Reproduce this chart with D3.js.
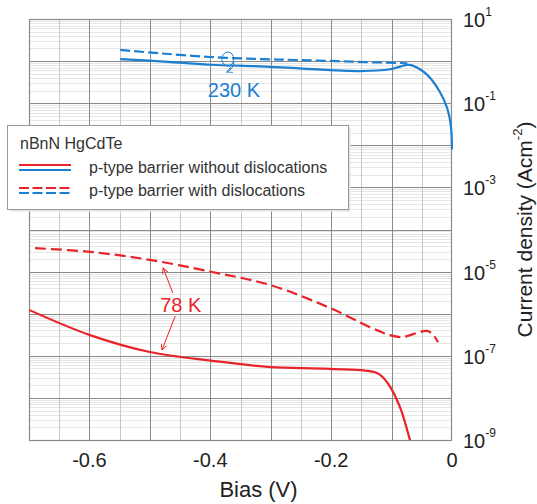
<!DOCTYPE html>
<html>
<head>
    <meta charset="utf-8">
    <title>nBnN HgCdTe current density</title>
    <style>
        body { margin: 0; background: #fff; }
        svg text { font-family: "Liberation Sans", Arial, sans-serif; }
        .grid-major { stroke: #8a8a8a; stroke-width: 1px; }
        .grid-minor { stroke: #e6e6e6; stroke-width: 1px; }
        .grid-mid { stroke: #c8c8c8; stroke-width: 1px; }
    </style>
</head>
<body>
<script src="https://cdnjs.cloudflare.com/ajax/libs/d3/7.8.5/d3.min.js"></script>
<script>
    // Bias (V) and current density (A/cm^2)
    const blueSolidBias = [-0.549, -0.483, -0.40, -0.318, -0.252, -0.202, -0.152, -0.103, -0.074, -0.065, -0.041, -0.020, -0.008, -0.002, 0];
    const blueSolidJ = [1.12, 0.99, 0.82, 0.75, 0.67, 0.61, 0.58, 0.64, 0.81, 0.78, 0.47, 0.185, 0.077, 0.03, 0.008];

    const blueDashBias = [-0.549, -0.483, -0.40, -0.318, -0.252, -0.164, -0.074];
    const blueDashJ = [1.84, 1.53, 1.25, 1.12, 1.06, 0.97, 0.89];

    const redSolidBias = [-0.70, -0.599, -0.50, -0.397, -0.301, -0.202, -0.124, -0.106, -0.086, -0.0695, -0.066];
    const redSolidJ = [1.23e-6, 3.1e-7, 1.23e-7, 7.6e-8, 5.4e-8, 4.9e-8, 3.9e-8, 2.2e-8, 6e-9, 1e-9, 7e-10];

    const redDashBias = [-0.69, -0.599, -0.50, -0.397, -0.301, -0.202, -0.136, -0.103, -0.081, -0.058, -0.041, -0.031, -0.023];
    const redDashJ = [3.6e-5, 2.95e-5, 1.9e-5, 9.8e-6, 4.8e-6, 1.37e-6, 4.8e-7, 3.1e-7, 2.8e-7, 3.5e-7, 3.9e-7, 3.1e-7, 2.1e-7];

    const xTicks = [-0.6, -0.4, -0.2, 0];
    const yTickExps = [1, -1, -3, -5, -7, -9];
    const legendLabels = ["p-type barrier without dislocations", "p-type barrier with dislocations"];

    const blue = "#1b7fd2";
    const red = "#e8242a";

    const W = 537, H = 504;
    const plot = {left: 29, right: 452, top: 19, bottom: 440};

    const svg = d3.select("body").append("svg")
        .attr("width", W)
        .attr("height", H);

    const x = d3.scaleLinear().domain([-0.7, 0]).range([plot.left, plot.right]);
    const y = d3.scaleLog().domain([1e-9, 10]).range([plot.bottom, plot.top]);

    // grid: minor horizontal (log sub-decades)
    const minorY = [];
    for (let e = -9; e < 1; e++) {
        for (let m = 2; m <= 9; m++) minorY.push(m * Math.pow(10, e));
    }
    const grid = svg.append("g");
    grid.selectAll("line.hmin").data(minorY).enter().append("line")
        .attr("class", "grid-minor")
        .attr("x1", plot.left).attr("x2", plot.right)
        .attr("y1", d => Math.round(y(d)) + 0.5).attr("y2", d => Math.round(y(d)) + 0.5);

    // vertical lines at 0.05 and 0.1
    const vMid = d3.range(-0.65, 0, 0.1);
    const vMajor = d3.range(-0.6, -0.05, 0.1);
    grid.selectAll("line.vmid").data(vMid).enter().append("line")
        .attr("class", "grid-mid")
        .attr("y1", plot.top).attr("y2", plot.bottom)
        .attr("x1", d => Math.round(x(d)) + 0.5).attr("x2", d => Math.round(x(d)) + 0.5);
    grid.selectAll("line.vmaj").data(vMajor).enter().append("line")
        .attr("class", "grid-major")
        .attr("y1", plot.top).attr("y2", plot.bottom)
        .attr("x1", d => Math.round(x(d)) + 0.5).attr("x2", d => Math.round(x(d)) + 0.5);

    // horizontal decades
    const decades = d3.range(-8, 1).map(e => Math.pow(10, e));
    grid.selectAll("line.hmaj").data(decades).enter().append("line")
        .attr("class", "grid-major")
        .attr("x1", plot.left).attr("x2", plot.right)
        .attr("y1", d => Math.round(y(d)) + 0.5).attr("y2", d => Math.round(y(d)) + 0.5);

    // frame
    svg.append("rect")
        .attr("x", plot.left + 0.5).attr("y", plot.top + 0.5)
        .attr("width", plot.right - plot.left - 1).attr("height", plot.bottom - plot.top)
        .attr("fill", "none").attr("stroke", "#8a8a8a").attr("stroke-width", 1.2);

    // clip for curves
    svg.append("clipPath").attr("id", "clip").append("rect")
        .attr("x", plot.left).attr("y", plot.top)
        .attr("width", plot.right - plot.left + 2).attr("height", plot.bottom - plot.top);

    const line = d3.line()
        .x(d => x(d[0]))
        .y(d => y(d[1]))
        .curve(d3.curveCatmullRom.alpha(0.5));

    const series = [
        {bias: blueDashBias, j: blueDashJ, color: blue, dash: "10,4"},
        {bias: blueSolidBias, j: blueSolidJ, color: blue, dash: null},
        {bias: redDashBias, j: redDashJ, color: red, dash: "11,5"},
        {bias: redSolidBias, j: redSolidJ, color: red, dash: null}
    ];

    const curves = svg.append("g").attr("clip-path", "url(#clip)");
    series.forEach(s => {
        curves.append("path")
            .datum(d3.zip(s.bias, s.j))
            .attr("d", line)
            .attr("fill", "none")
            .attr("stroke", s.color)
            .attr("stroke-width", 2.2)
            .attr("stroke-dasharray", s.dash);
    });

    // bottom tick labels
    svg.selectAll("text.xt").data(xTicks).enter().append("text")
        .attr("x", d => x(d))
        .attr("y", 467)
        .attr("text-anchor", "middle")
        .attr("font-size", 20)
        .attr("fill", "#222")
        .text(d => d === 0 ? "0" : d.toFixed(1));

    svg.append("text")
        .attr("x", (plot.left + plot.right) / 2 + 18)
        .attr("y", 497)
        .attr("text-anchor", "middle")
        .attr("font-size", 22)
        .attr("fill", "#222")
        .text("Bias (V)");

    // right tick labels
    const yt = svg.selectAll("text.yt").data(yTickExps).enter().append("text")
        .attr("x", 463)
        .attr("y", d => y(Math.pow(10, d)) + 8)
        .attr("font-size", 20)
        .attr("fill", "#222");
    yt.append("tspan").text("10");
    yt.append("tspan")
        .attr("font-size", 12)
        .attr("dy", -11)
        .text(d => d);

    // right axis title
    const yTitle = svg.append("text")
        .attr("transform", `translate(532,${(plot.top + plot.bottom) / 2}) rotate(-90)`)
        .attr("text-anchor", "middle")
        .attr("font-size", 21)
        .attr("fill", "#222");
    yTitle.append("tspan").text("Current density (Acm");
    yTitle.append("tspan").attr("font-size", 13).attr("dy", -10).text("-2");
    yTitle.append("tspan").attr("dy", 10).text(")");

    // arrow markers
    const defs = svg.append("defs");
    [["arrRed", red], ["arrBlue", blue]].forEach(([id, c]) => {
        defs.append("marker")
            .attr("id", id)
            .attr("viewBox", "0 0 10 10")
            .attr("refX", 9).attr("refY", 5)
            .attr("markerWidth", 7).attr("markerHeight", 7)
            .attr("orient", "auto")
            .append("path")
            .attr("d", "M1,1 L9,5 L1,9")
            .attr("fill", "none")
            .attr("stroke", c)
            .attr("stroke-width", 1.3);
    });

    // 230 K annotation
    const ring = {bias: -0.371, j: 1.12};
    const rx = x(ring.bias), ry = y(ring.j);
    svg.append("ellipse")
        .attr("cx", rx).attr("cy", ry)
        .attr("rx", 6).attr("ry", 7)
        .attr("fill", "none").attr("stroke", blue).attr("stroke-width", 1);
    svg.append("path")
        .attr("d", `M${rx + 6},${ry + 2} Q${rx + 6},${ry + 10} ${rx - 1},${ry + 13}`)
        .attr("fill", "none").attr("stroke", blue).attr("stroke-width", 1)
        .attr("marker-end", "url(#arrBlue)");
    svg.append("text")
        .attr("x", x(-0.404)).attr("y", y(0.14))
        .attr("font-size", 20)
        .attr("fill", blue)
        .text("230 K");

    // 78 K annotation
    svg.append("text")
        .attr("x", x(-0.483)).attr("y", y(1.1e-6))
        .attr("font-size", 20)
        .attr("fill", red)
        .text("78 K");
    const arrows78 = [
        [[-0.462, 3.1e-6], [-0.478, 1.22e-5]],
        [[-0.458, 8.8e-7], [-0.480, 1.38e-7]]
    ];
    svg.selectAll("line.a78").data(arrows78).enter().append("line")
        .attr("x1", d => x(d[0][0])).attr("y1", d => y(d[0][1]))
        .attr("x2", d => x(d[1][0])).attr("y2", d => y(d[1][1]))
        .attr("stroke", red).attr("stroke-width", 1)
        .attr("marker-end", "url(#arrRed)");

    // legend
    const lg = svg.append("g");
    lg.append("rect")
        .attr("x", 9.5).attr("y", 127.5).attr("width", 341).attr("height", 84)
        .attr("fill", "#e4e4e4");
    lg.append("rect")
        .attr("x", 7.5).attr("y", 125.5).attr("width", 341).attr("height", 84)
        .attr("fill", "#fff").attr("stroke", "#9a9a9a").attr("stroke-width", 1);
    lg.append("text")
        .attr("x", 20).attr("y", 149)
        .attr("font-size", 16).attr("fill", "#333")
        .text("nBnN HgCdTe");
    legendLabels.forEach((lab, i) => {
        const yy = 165 + i * 23;
        const dash = i === 0 ? null : "10,3.5";
        lg.append("line").attr("x1", 19).attr("x2", 71).attr("y1", yy).attr("y2", yy)
            .attr("stroke", red).attr("stroke-width", 2.2).attr("stroke-dasharray", dash);
        lg.append("line").attr("x1", 19).attr("x2", 71).attr("y1", yy + 5).attr("y2", yy + 5)
            .attr("stroke", blue).attr("stroke-width", 2.2).attr("stroke-dasharray", dash);
        lg.append("text")
            .attr("x", 89).attr("y", yy + 8)
            .attr("font-size", 16).attr("fill", "#333")
            .text(lab);
    });
</script>
</body>
</html>
